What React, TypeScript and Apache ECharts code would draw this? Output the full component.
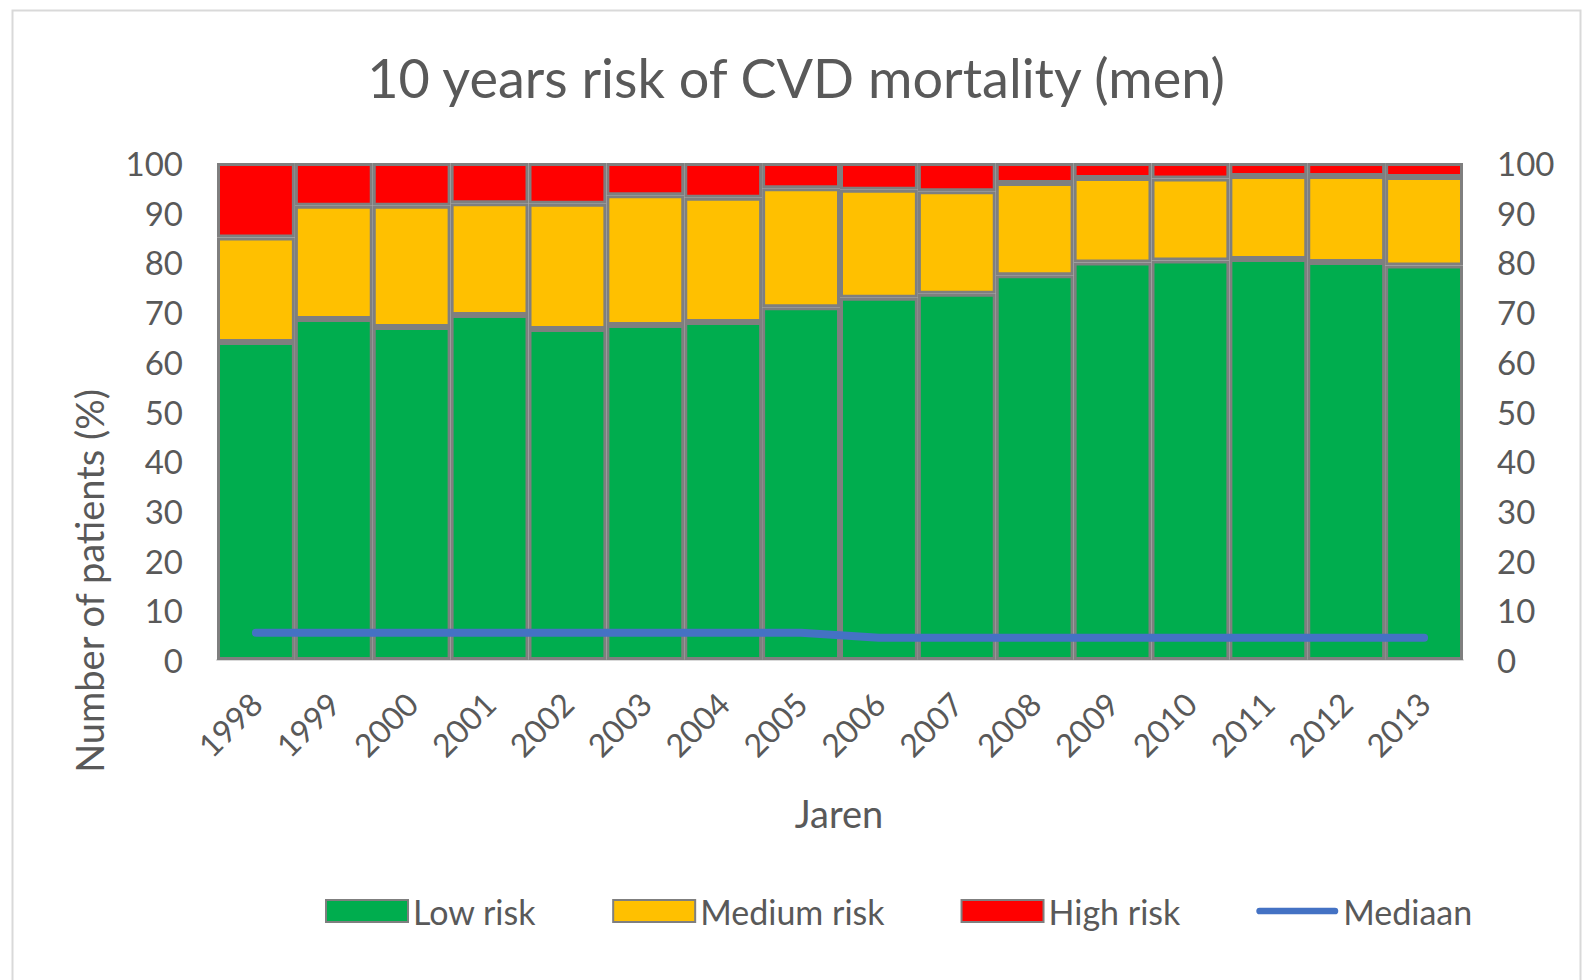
import React, { useEffect, useRef } from "react";
import * as echarts from "echarts";

const years = ["1998", "1999", "2000", "2001", "2002", "2003", "2004", "2005", "2006", "2007", "2008", "2009", "2010", "2011", "2012", "2013"];
const lowRisk = [64.0, 68.6, 67.0, 69.4, 66.6, 67.4, 68.0, 71.0, 72.9, 73.7, 77.4, 80.0, 80.4, 80.7, 80.1, 79.4];
const mediumRisk = [21.0, 22.8, 24.4, 22.5, 25.2, 26.1, 25.0, 23.9, 21.7, 20.6, 18.6, 17.0, 16.5, 16.7, 17.3, 17.8];
const highRisk = [15.0, 8.6, 8.6, 8.1, 8.2, 6.5, 7.0, 5.1, 5.4, 5.7, 4.0, 3.0, 3.1, 2.6, 2.6, 2.8];
const mediaan = [5.5, 5.5, 5.5, 5.5, 5.5, 5.5, 5.5, 5.5, 4.5, 4.5, 4.5, 4.5, 4.5, 4.5, 4.5, 4.5];

const FONT = "Lato";
const GREY = "#595959";
const BORDER = "#7f7f7f";

export default function App() {
  const ref = useRef<HTMLDivElement>(null);
  useEffect(() => {
    if (!ref.current) return;
    const chart = echarts.init(ref.current, undefined, { renderer: "svg" });
    const barStyle = (color: string) => ({ color, borderColor: BORDER, borderWidth: 3 });
    const yAxisBase = {
      type: "value",
      min: 0,
      max: 100,
      interval: 10,
      axisLine: { show: false },
      axisTick: { show: false },
      splitLine: { show: false },
      axisLabel: { color: GREY, fontSize: 33, fontFamily: FONT, margin: 34 },
    };
    chart.setOption({
      animation: false,
      backgroundColor: "#fff",
      textStyle: { fontFamily: FONT },
      grid: { left: 217, right: 122, top: 163, bottom: 320 },
      xAxis: {
        type: "category",
        data: years,
        axisLine: { show: true, lineStyle: { color: "#d9d9d9", width: 2 } },
        axisTick: { show: false },
        axisLabel: { color: GREY, fontSize: 32, fontFamily: FONT, rotate: 45, margin: 38, interval: 0 },
      },
      yAxis: [
        { ...yAxisBase, position: "left" },
        { ...yAxisBase, position: "right" },
      ],
      legend: {
        top: 889,
        left: 320,
        itemWidth: 82,
        itemHeight: 22,
        itemGap: 76,
        textStyle: { color: GREY, fontSize: 34, fontFamily: FONT },
        data: [
          { name: "Low risk", icon: "rect" },
          { name: "Medium risk", icon: "rect" },
          { name: "High risk", icon: "rect" },
          { name: "Mediaan", icon: "path://M3.5,0 L82.5,0 A3.5,3.5 0 0 1 82.5,7 L3.5,7 A3.5,3.5 0 0 1 3.5,0 Z" },
        ],
      },
      graphic: [
        {
          type: "rect",
          left: 10,
          top: 8,
          shape: { width: 1568, height: 990 },
          style: { fill: "none", stroke: "#d9d9d9", lineWidth: 2 },
        },
        {
          type: "text",
          x: 796,
          y: 77,
          style: {
            text: "10 years risk of CVD mortality (men)",
            fill: GREY,
            fontSize: 54,
            fontFamily: FONT,
            align: "center",
            verticalAlign: "middle",
          },
        },
        {
          type: "text",
          x: 89,
          y: 581,
          rotation: Math.PI / 2,
          style: {
            text: "Number of patients (%)",
            fill: GREY,
            fontSize: 38,
            fontFamily: FONT,
            align: "center",
            verticalAlign: "middle",
          },
        },
        {
          type: "text",
          x: 839,
          y: 813,
          style: {
            text: "Jaren",
            fill: GREY,
            fontSize: 38,
            fontFamily: FONT,
            align: "center",
            verticalAlign: "middle",
          },
        },
      ],
      series: [
        { name: "Low risk", type: "bar", stack: "risk", data: lowRisk, barCategoryGap: "0%", itemStyle: barStyle("#00ad4e") },
        { name: "Medium risk", type: "bar", stack: "risk", data: mediumRisk, itemStyle: barStyle("#ffc000") },
        { name: "High risk", type: "bar", stack: "risk", data: highRisk, itemStyle: barStyle("#ff0000") },
        {
          name: "Mediaan",
          type: "line",
          data: mediaan,
          symbol: "none",
          itemStyle: { color: "#4472c4" },
          lineStyle: { color: "#4472c4", width: 8, cap: "round" },
        },
      ],
    });
    return () => chart.dispose();
  }, []);
  return <div ref={ref} style={{ position: "fixed", left: 0, top: 0, width: 1585, height: 980 }} />;
}
